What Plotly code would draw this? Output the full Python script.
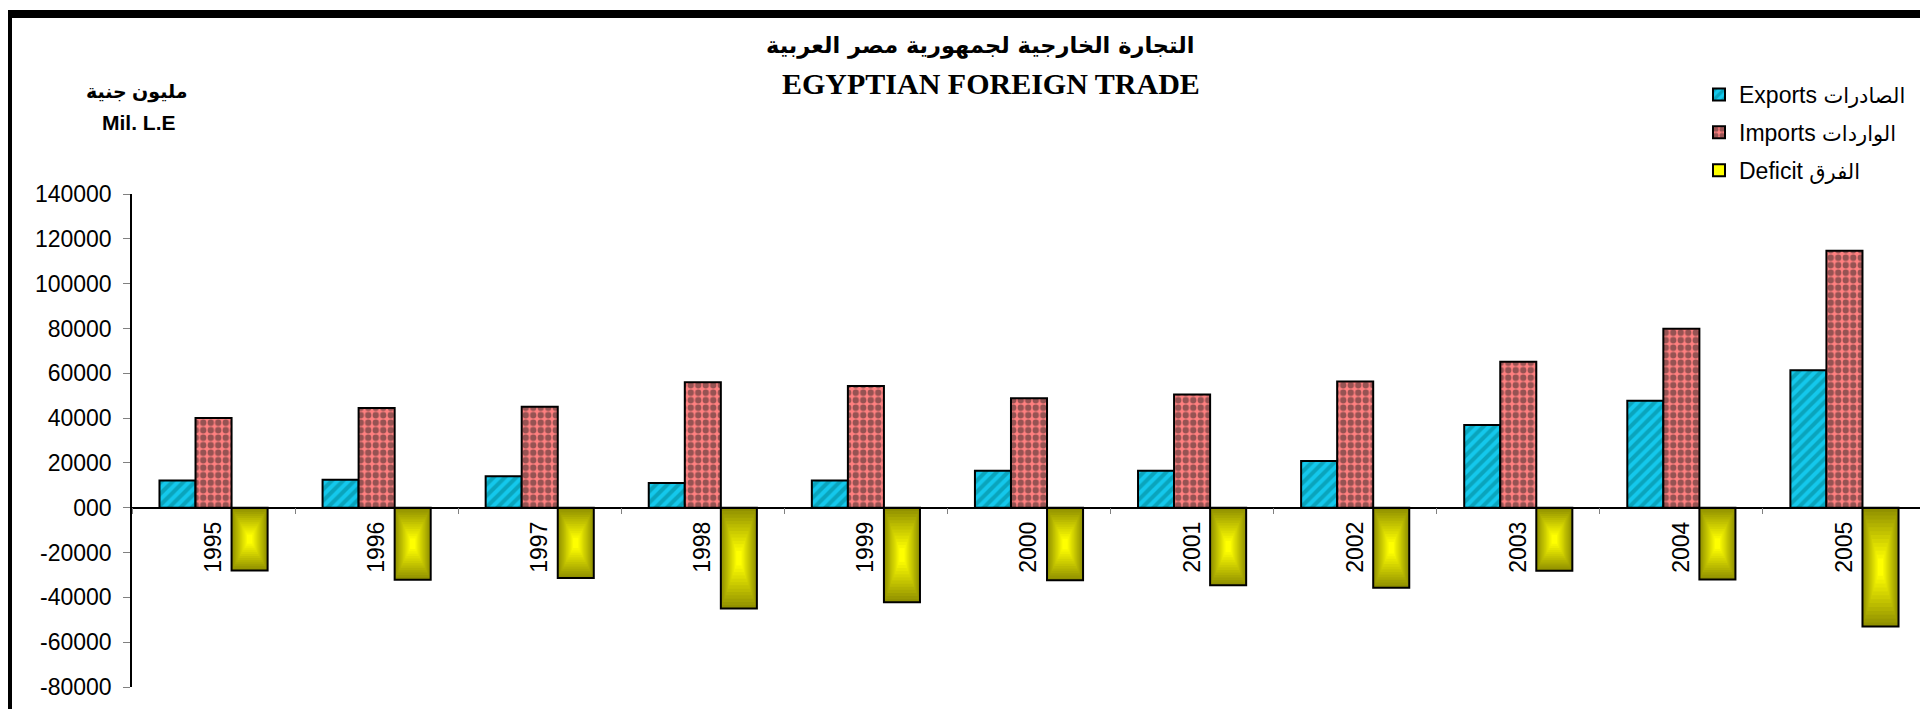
import plotly.graph_objects as go

# data (million L.E)
years = ['1995', '1996', '1997', '1998', '1999', '2000', '2001', '2002', '2003', '2004', '2005']
exports = [12200, 12500, 14000, 11000, 12100, 16500, 16500, 20900, 36900, 47700, 61400]
imports = [40000, 44500, 45100, 56000, 54300, 48800, 50500, 56300, 65100, 79900, 114700]
deficit = [-28000, -32100, -31400, -45000, -42200, -32400, -34600, -35700, -28100, -32000, -53000]

y_tick_vals = [140000, 120000, 100000, 80000, 60000, 40000, 20000, 0, -20000, -40000, -60000, -80000]
y_tick_text = ['140000', '120000', '100000', '80000', '60000', '40000', '20000', '000',
               '-20000', '-40000', '-60000', '-80000']

AR = '<span style="font-size:21px">%s</span>'
names = ['Exports ' + AR % 'الصادرات', 'Imports ' + AR % 'الواردات', 'Deficit ' + AR % 'الفرق']

# page geometry in pixels (the html body adds an 8px offset)
W, H = 1928, 709
OFF = 8
ML, MR, MT, MB = 124, 10, 186, 30
PW = W - ML - MR
PH = H - MT - MB


def px_x(p):
    # page pixel -> paper x
    return (p - OFF - ML) / PW


def px_y(p):
    # page pixel -> paper y
    return (H - MB - (p - OFF)) / PH


Y_MIN, Y_MAX = -80000, 140000
zero_pos = (0 - Y_MIN) / (Y_MAX - Y_MIN)

BW = 0.221
offs = [-1.5 * BW, -0.5 * BW, 0.5 * BW]
FONT = 'Liberation Sans, Arial, DejaVu Sans, sans-serif'

fig = go.Figure()

fig.add_trace(go.Bar(
    x=years, y=exports, name=names[0], width=BW, offset=offs[0], legendgroup='e',
    marker=dict(color='#14c8ec',
                pattern=dict(shape='/', fgcolor='#00808c', bgcolor='#14c8ec', size=8, solidity=0.5),
                line=dict(color='black', width=2)),
))
fig.add_trace(go.Bar(
    x=years, y=imports, name=names[1], width=BW, offset=offs[1], legendgroup='i',
    marker=dict(color='#ff8080',
                pattern=dict(shape='.', fgcolor='#2e2626', bgcolor='#ff8080', size=7.5, solidity=0.56),
                line=dict(color='black', width=2)),
))

# legend entry for the deficit (yellow swatch)
fig.add_trace(go.Bar(
    x=[None], y=[None], name=names[2], legendgroup='d',
    marker=dict(color='#ffff00', line=dict(color='black', width=2)),
))

# deficit bars: concentric layers to imitate the centre gradient
n_layers = 14
c_edge = (145, 145, 0)
c_mid = (255, 255, 0)
for i in range(n_layers):
    f = i / n_layers * 0.92
    t = i / (n_layers - 1)
    col = 'rgb(%d,%d,%d)' % tuple(int(a + (b - a) * t) for a, b in zip(c_edge, c_mid))
    w = BW * (1 - f)
    fig.add_trace(go.Bar(
        x=years, y=[d * (1 - f) for d in deficit], base=[d * f / 2 for d in deficit],
        width=w, offset=offs[2] + (BW - w) / 2, showlegend=False, legendgroup='d',
        marker=dict(color=col, line=dict(width=0)), hoverinfo='skip',
    ))
# outline on top
fig.add_trace(go.Bar(
    x=years, y=deficit, width=BW, offset=offs[2], showlegend=False, legendgroup='d',
    marker=dict(color='rgba(0,0,0,0)', line=dict(color='black', width=2)),
    name=names[2],
))

fig.update_layout(
    width=W, height=H,
    margin=dict(l=ML, r=MR, t=MT, b=MB),
    paper_bgcolor='white', plot_bgcolor='white',
    barmode='overlay',
    font=dict(family=FONT, size=23, color='black'),
    showlegend=True,
    legend=dict(x=px_x(1699), y=px_y(73), xanchor='left', yanchor='top',
                font=dict(family=FONT, size=23, color='black'),
                traceorder='grouped', tracegroupgap=5, bgcolor='rgba(0,0,0,0)'),
    xaxis=dict(type='category', range=[-0.5, 10.5], anchor='free', position=zero_pos,
               showline=True, linecolor='black', linewidth=1.5,
               ticks='outside', tickson='boundaries', ticklen=6, tickcolor='#808080',
               tickangle=-90, tickfont=dict(size=23), showgrid=False, ticklabelstandoff=4),
    yaxis=dict(range=[Y_MIN, Y_MAX], tickvals=y_tick_vals, ticktext=y_tick_text,
               showline=True, linecolor='black', linewidth=1.5,
               ticks='outside', ticklen=7, tickcolor='#808080',
               tickfont=dict(size=23), showgrid=False, zeroline=False, ticklabelstandoff=7),
)

# titles
fig.add_annotation(text='<b>التجارة الخارجية لجمهورية مصر العربية</b>', xref='paper', yref='paper',
                   x=px_x(980), y=px_y(45), showarrow=False, xanchor='center', yanchor='middle',
                   font=dict(family='DejaVu Sans, sans-serif', size=22.5, color='black'))
fig.add_annotation(text='<b>EGYPTIAN FOREIGN TRADE</b>', xref='paper', yref='paper',
                   x=px_x(991), y=px_y(84), showarrow=False, xanchor='center', yanchor='middle',
                   font=dict(family='Liberation Serif, Times New Roman, serif', size=30, color='black'))
fig.add_annotation(text='<b>مليون جنية</b>', xref='paper', yref='paper',
                   x=px_x(136), y=px_y(92), showarrow=False, xanchor='center', yanchor='middle',
                   font=dict(family=FONT, size=19, color='black'))
fig.add_annotation(text='<b>Mil. L.E</b>', xref='paper', yref='paper',
                   x=px_x(139), y=px_y(123), showarrow=False, xanchor='center', yanchor='middle',
                   font=dict(family=FONT, size=21, color='black'))

# black frame around the chart (left and top edges)
fig.add_shape(type='rect', xref='paper', yref='paper', x0=px_x(8), x1=px_x(12),
              y0=px_y(H + 20), y1=px_y(10), fillcolor='black', line=dict(width=0), layer='above')
fig.add_shape(type='rect', xref='paper', yref='paper', x0=px_x(8), x1=px_x(W + 20),
              y0=px_y(18), y1=px_y(10), fillcolor='black', line=dict(width=0), layer='above')

fig.write_html("out.html")
